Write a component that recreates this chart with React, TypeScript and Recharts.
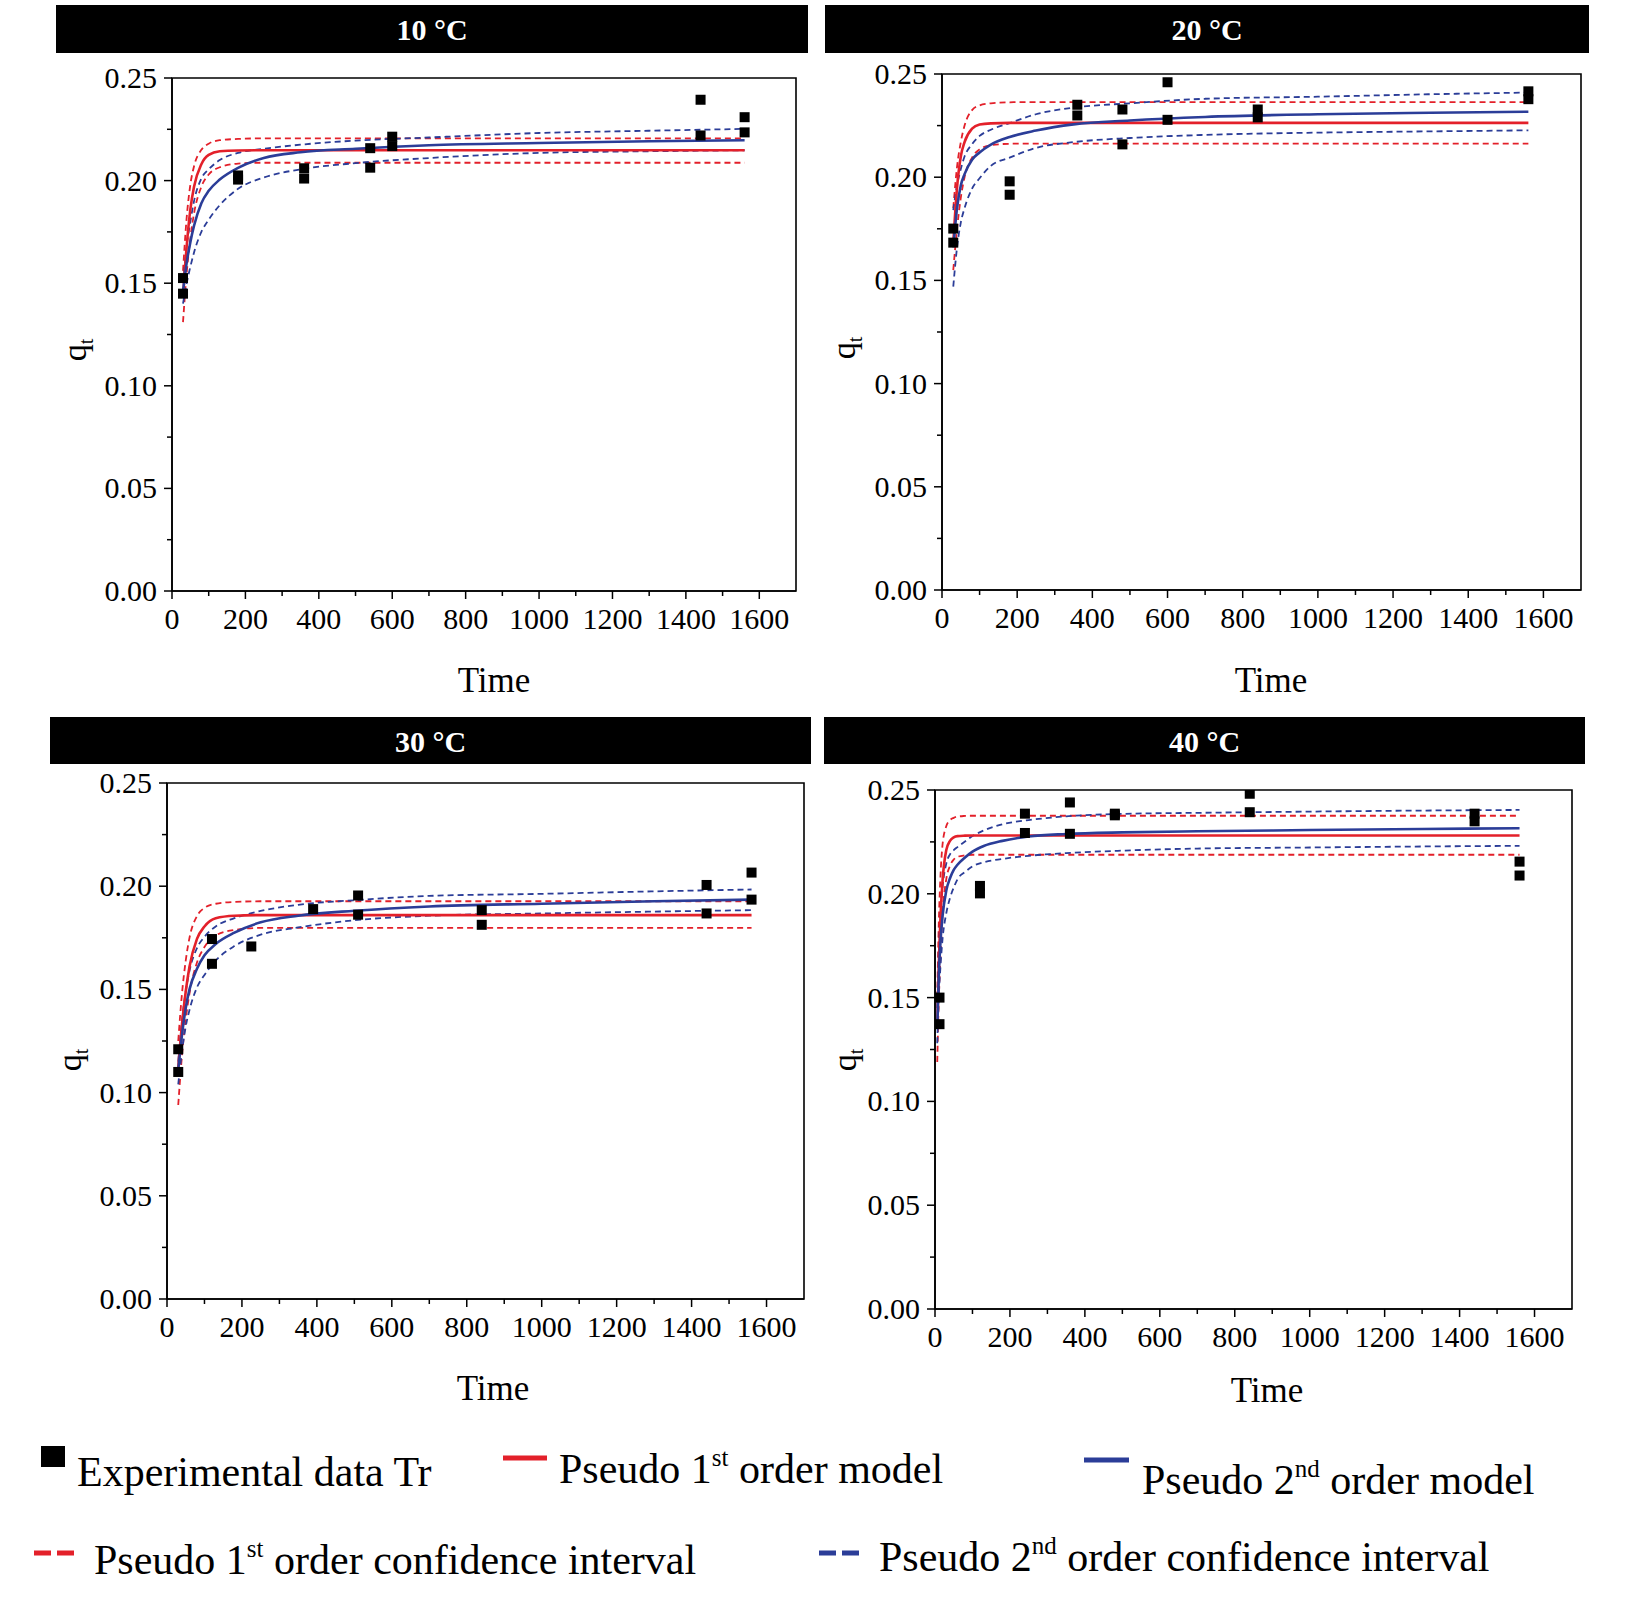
import React from "react";
import { ComposedChart, Line, Scatter, XAxis, YAxis, ReferenceArea } from "recharts";

const RED = "#e3202a";
const BLUE = "#2b3d98";
const FONT = '"Liberation Serif", "Times New Roman", serif';

const X_TICKS = [0, 100, 200, 300, 400, 500, 600, 700, 800, 900, 1000, 1100, 1200, 1300, 1400, 1500, 1600];
const Y_TICKS = [0, 0.025, 0.05, 0.075, 0.1, 0.125, 0.15, 0.175, 0.2, 0.225, 0.25];

// time grid of the fitted curves (10, 20, 30 °C) and of the 40 °C curves
const T_GRID = [30, 40, 50, 60, 80, 100, 130, 180, 250, 350, 500, 700, 1000, 1300, 1560];
const T_GRID_40 = [6, 10, 15, 20, 30, 40, 50, 60, 80, 100, 130, 180, 250, 350, 500, 700, 1000, 1300, 1560];

// 10 °C
const exp10T = [30, 30, 180, 180, 360, 360, 540, 540, 600, 600, 1440, 1440, 1560, 1560];
const exp10Q = [0.1525, 0.1449, 0.2025, 0.2005, 0.206, 0.201, 0.2158, 0.2063, 0.2214, 0.2168, 0.2394, 0.222, 0.2309, 0.2235];
const pfo10 = [0.143, 0.168, 0.186, 0.197, 0.208, 0.2125, 0.2143, 0.2147, 0.2148, 0.2148, 0.2148, 0.2148, 0.2148, 0.2148, 0.2148];
const pfo10Hi = [0.156, 0.182, 0.198, 0.207, 0.215, 0.218, 0.2197, 0.2203, 0.2206, 0.2206, 0.2206, 0.2206, 0.2206, 0.2206, 0.2206];
const pfo10Lo = [0.131, 0.155, 0.172, 0.184, 0.197, 0.203, 0.2065, 0.2083, 0.2087, 0.2087, 0.2087, 0.2087, 0.2087, 0.2087, 0.2087];
const pso10 = [0.146, 0.16, 0.17, 0.178, 0.189, 0.195, 0.2005, 0.2062, 0.211, 0.2138, 0.2155, 0.2172, 0.2183, 0.2192, 0.2197];
const pso10Hi = [0.15, 0.168, 0.18, 0.19, 0.201, 0.2055, 0.21, 0.2135, 0.2155, 0.2175, 0.2195, 0.221, 0.2232, 0.2243, 0.2252];
const pso10Lo = [0.14, 0.15, 0.158, 0.165, 0.175, 0.181, 0.188, 0.196, 0.2015, 0.2055, 0.2085, 0.211, 0.2135, 0.2143, 0.2148];

// 20 °C
const exp20T = [30, 30, 180, 180, 360, 360, 480, 480, 600, 600, 840, 840, 1560, 1560];
const exp20Q = [0.1751, 0.1683, 0.198, 0.1915, 0.2351, 0.2299, 0.2328, 0.2159, 0.246, 0.2278, 0.2328, 0.229, 0.2416, 0.2378];
const pfo20 = [0.168, 0.195, 0.21, 0.217, 0.2235, 0.2255, 0.2261, 0.2263, 0.2263, 0.2263, 0.2263, 0.2263, 0.2263, 0.2263, 0.2263];
const pfo20Hi = [0.185, 0.205, 0.217, 0.225, 0.2325, 0.2348, 0.2358, 0.2363, 0.2364, 0.2364, 0.2364, 0.2364, 0.2364, 0.2364, 0.2364];
const pfo20Lo = [0.155, 0.175, 0.19, 0.2, 0.2095, 0.2135, 0.2155, 0.2162, 0.2163, 0.2163, 0.2163, 0.2163, 0.2163, 0.2163, 0.2163];
const pso20 = [0.166, 0.185, 0.196, 0.2015, 0.2085, 0.212, 0.2158, 0.2195, 0.2226, 0.2256, 0.2275, 0.2292, 0.2305, 0.2312, 0.2317];
const pso20Hi = [0.184, 0.196, 0.204, 0.21, 0.216, 0.22, 0.223, 0.2262, 0.2305, 0.2337, 0.2358, 0.238, 0.239, 0.2402, 0.241];
const pso20Lo = [0.147, 0.166, 0.178, 0.185, 0.1945, 0.1995, 0.2055, 0.2095, 0.2142, 0.217, 0.219, 0.2205, 0.2216, 0.2222, 0.2227];

// 30 °C
const exp30T = [30, 30, 120, 120, 225, 390, 510, 510, 840, 840, 1440, 1440, 1560, 1560];
const exp30Q = [0.121, 0.11, 0.1744, 0.1624, 0.1708, 0.1889, 0.1955, 0.1862, 0.1884, 0.1813, 0.2006, 0.1868, 0.2066, 0.1935];
const pfo30 = [0.112, 0.133, 0.149, 0.161, 0.1745, 0.1805, 0.1845, 0.1857, 0.186, 0.186, 0.186, 0.186, 0.186, 0.186, 0.186];
const pfo30Hi = [0.125, 0.148, 0.164, 0.175, 0.1855, 0.1895, 0.1915, 0.1924, 0.1927, 0.1927, 0.1927, 0.1927, 0.1927, 0.1927, 0.1927];
const pfo30Lo = [0.094, 0.118, 0.1355, 0.148, 0.163, 0.1705, 0.1762, 0.1788, 0.1798, 0.1798, 0.1798, 0.1798, 0.1798, 0.1798, 0.1798];
const pso30 = [0.111, 0.128, 0.141, 0.15, 0.16, 0.1665, 0.172, 0.1775, 0.1825, 0.1857, 0.1881, 0.1902, 0.1915, 0.1927, 0.1935];
const pso30Hi = [0.115, 0.135, 0.149, 0.159, 0.17, 0.1755, 0.1805, 0.1845, 0.188, 0.191, 0.1932, 0.1953, 0.1963, 0.1975, 0.1984];
const pso30Lo = [0.104, 0.12, 0.132, 0.14, 0.151, 0.157, 0.164, 0.171, 0.1765, 0.18, 0.1835, 0.1857, 0.1868, 0.1877, 0.1884];

// 40 °C
const exp40T = [12, 12, 120, 120, 240, 240, 360, 360, 480, 480, 840, 840, 1440, 1440, 1560, 1560];
const exp40Q = [0.15, 0.1372, 0.2038, 0.2002, 0.2386, 0.2293, 0.244, 0.2289, 0.2386, 0.2378, 0.2482, 0.2393, 0.2386, 0.2349, 0.2155, 0.2088];
const pfo40 = [0.135, 0.165, 0.19, 0.206, 0.221, 0.2255, 0.2272, 0.2278, 0.228, 0.2281, 0.2281, 0.2281, 0.2281, 0.2281, 0.2281, 0.2281, 0.2281, 0.2281, 0.2281];
const pfo40Hi = [0.15, 0.185, 0.21, 0.2235, 0.2325, 0.2355, 0.2366, 0.2372, 0.2375, 0.2376, 0.2376, 0.2376, 0.2376, 0.2376, 0.2376, 0.2376, 0.2376, 0.2376, 0.2376];
const pfo40Lo = [0.119, 0.148, 0.172, 0.19, 0.207, 0.2135, 0.2165, 0.2178, 0.2185, 0.2188, 0.2188, 0.2188, 0.2188, 0.2188, 0.2188, 0.2188, 0.2188, 0.2188, 0.2188];
const pso40 = [0.135, 0.16, 0.178, 0.189, 0.2015, 0.2075, 0.2115, 0.214, 0.2175, 0.2203, 0.223, 0.2255, 0.2276, 0.2288, 0.2296, 0.2301, 0.2307, 0.2312, 0.2316];
const pso40Hi = [0.145, 0.172, 0.192, 0.203, 0.2145, 0.219, 0.221, 0.2225, 0.2252, 0.2278, 0.2305, 0.2335, 0.2355, 0.2373, 0.2385, 0.239, 0.2396, 0.2401, 0.2404];
const pso40Lo = [0.128, 0.15, 0.166, 0.178, 0.1905, 0.198, 0.203, 0.207, 0.2105, 0.2132, 0.2152, 0.2168, 0.2183, 0.2196, 0.2208, 0.2218, 0.2223, 0.2228, 0.2231];

// page layout of the four panels (px)
const panels = [
  {
    title: "10 °C", t: T_GRID, pfo: pfo10, pfoHi: pfo10Hi, pfoLo: pfo10Lo, pso: pso10, psoHi: pso10Hi, psoLo: pso10Lo,
    expT: exp10T, expQ: exp10Q,
    bar: [56, 5, 752, 48], plot: [172, 78, 624, 513], q: [86, 350], time: [494, 692],
  },
  {
    title: "20 °C", t: T_GRID, pfo: pfo20, pfoHi: pfo20Hi, pfoLo: pfo20Lo, pso: pso20, psoHi: pso20Hi, psoLo: pso20Lo,
    expT: exp20T, expQ: exp20Q,
    bar: [825, 5, 764, 48], plot: [942, 74, 639, 516], q: [855, 348], time: [1271, 692],
  },
  {
    title: "30 °C", t: T_GRID, pfo: pfo30, pfoHi: pfo30Hi, pfoLo: pfo30Lo, pso: pso30, psoHi: pso30Hi, psoLo: pso30Lo,
    expT: exp30T, expQ: exp30Q,
    bar: [50, 717, 761, 47], plot: [167, 783, 637, 516], q: [81, 1060], time: [493, 1400],
  },
  {
    title: "40 °C", t: T_GRID_40, pfo: pfo40, pfoHi: pfo40Hi, pfoLo: pfo40Lo, pso: pso40, psoHi: pso40Hi, psoLo: pso40Lo,
    expT: exp40T, expQ: exp40Q,
    bar: [824, 717, 761, 47], plot: [935, 790, 637, 519], q: [856, 1060], time: [1267, 1402],
  },
];

// ticks are drawn by hand so major and minor marks can differ in length
function XTick(props: any) {
  const { x, y, payload } = props;
  const v = payload.value;
  const major = v % 200 === 0;
  return (
    <g>
      <line x1={x} y1={y} x2={x} y2={y + (major ? 8 : 5)} stroke="#000" strokeWidth={1.5} />
      {major && (
        <text x={x} y={y + 38} textAnchor="middle" fontSize={30} fontFamily={FONT} fill="#000">
          {v}
        </text>
      )}
    </g>
  );
}

function YTick(props: any) {
  const { x, y, payload } = props;
  const v = payload.value;
  const major = Math.round(v * 1000) % 50 === 0;
  return (
    <g>
      <line x1={x} y1={y} x2={x - (major ? 8 : 5)} y2={y} stroke="#000" strokeWidth={1.5} />
      {major && (
        <text x={x - 15} y={y + 10} textAnchor="end" fontSize={30} fontFamily={FONT} fill="#000">
          {v.toFixed(2)}
        </text>
      )}
    </g>
  );
}

const Square = (p: any) => <rect x={p.cx - 5} y={p.cy - 5} width={10} height={10} fill="#000" />;

function Panel({ p }: { p: (typeof panels)[number] }) {
  const rows = p.t.map((t, i) => ({
    t,
    rs: p.pfo[i],
    ru: p.pfoHi[i],
    rl: p.pfoLo[i],
    bs: p.pso[i],
    bu: p.psoHi[i],
    bl: p.psoLo[i],
  }));
  const pts = p.expT.map((t, i) => ({ t, q: p.expQ[i] }));
  const [L, T, W, H] = p.plot;
  const ML = 100, MT = 30, MR = 12, MB = 50;
  const axis = { stroke: "#000", strokeWidth: 1.6 };
  return (
    <div style={{ position: "absolute", left: L - ML, top: T - MT }}>
      <ComposedChart
        width={W + ML + MR}
        height={H + MT + MB}
        data={rows}
        margin={{ top: MT, right: MR, left: ML - 1, bottom: MB - 1 }}
      >
        <XAxis
          dataKey="t"
          type="number"
          domain={[0, 1700]}
          ticks={X_TICKS}
          interval={0}
          allowDataOverflow
          height={1}
          tickSize={0}
          tickMargin={0}
          tickLine={false}
          axisLine={axis}
          tick={<XTick />}
        />
        <YAxis
          type="number"
          domain={[0, 0.25]}
          ticks={Y_TICKS}
          interval={0}
          allowDataOverflow
          width={1}
          tickSize={0}
          tickMargin={0}
          tickLine={false}
          axisLine={axis}
          tick={<YTick />}
        />
        <ReferenceArea x1={0} x2={1700} y1={0} y2={0.25} fill="none" stroke="#000" strokeWidth={1.6} />
        <Scatter data={pts} dataKey="q" shape={Square} isAnimationActive={false} />
        <Line dataKey="ru" type="monotone" stroke={RED} strokeWidth={1.8} strokeDasharray="6 4" dot={false} activeDot={false} isAnimationActive={false} />
        <Line dataKey="rl" type="monotone" stroke={RED} strokeWidth={1.8} strokeDasharray="6 4" dot={false} activeDot={false} isAnimationActive={false} />
        <Line dataKey="bu" type="monotone" stroke={BLUE} strokeWidth={1.8} strokeDasharray="6 4" dot={false} activeDot={false} isAnimationActive={false} />
        <Line dataKey="bl" type="monotone" stroke={BLUE} strokeWidth={1.8} strokeDasharray="6 4" dot={false} activeDot={false} isAnimationActive={false} />
        <Line dataKey="rs" type="monotone" stroke={RED} strokeWidth={2.6} dot={false} activeDot={false} isAnimationActive={false} />
        <Line dataKey="bs" type="monotone" stroke={BLUE} strokeWidth={2.6} dot={false} activeDot={false} isAnimationActive={false} />
      </ComposedChart>
    </div>
  );
}

export default function App() {
  return (
    <div style={{ position: "absolute", left: 0, top: 0, width: 1625, height: 1603, background: "#fff" }}>
      <svg width={1625} height={1603} style={{ position: "absolute", left: 0, top: 0 }} fontFamily={FONT}>
        {panels.map((p) => {
          const [bx, by, bw, bh] = p.bar;
          return (
            <g key={p.title}>
              <rect x={bx} y={by} width={bw} height={bh} fill="#000" />
              <text x={bx + bw / 2} y={by + bh / 2 + 11} textAnchor="middle" fontSize={30} fontWeight="bold" fill="#fff">
                {p.title}
              </text>
              <text x={p.time[0]} y={p.time[1]} textAnchor="middle" fontSize={35} fill="#000">
                Time
              </text>
              <text transform={`translate(${p.q[0]},${p.q[1]}) rotate(-90)`} textAnchor="middle" fontSize={34} fill="#000">
                q<tspan fontSize={20} dy={7}>t</tspan>
              </text>
            </g>
          );
        })}

        {/* legend */}
        <rect x={41} y={1446} width={24} height={21} fill="#000" />
        <text x={77} y={1486} fontSize={42} fill="#000">Experimental data Tr</text>

        <line x1={503} x2={547} y1={1458} y2={1458} stroke={RED} strokeWidth={5} />
        <text x={559} y={1483} fontSize={42} fill="#000">
          Pseudo 1<tspan fontSize={25} dy={-17}>st</tspan>
          <tspan dy={17}>{" order model"}</tspan>
        </text>

        <line x1={1084} x2={1129} y1={1460} y2={1460} stroke={BLUE} strokeWidth={5} />
        <text x={1142} y={1494} fontSize={42} fill="#000">
          Pseudo 2<tspan fontSize={25} dy={-17}>nd</tspan>
          <tspan dy={17}>{" order model"}</tspan>
        </text>

        <line x1={34} x2={74} y1={1553} y2={1553} stroke={RED} strokeWidth={5} strokeDasharray="17 6" />
        <text x={94} y={1574} fontSize={42} fill="#000">
          Pseudo 1<tspan fontSize={25} dy={-17}>st</tspan>
          <tspan dy={17}>{" order confidence interval"}</tspan>
        </text>

        <line x1={819} x2={859} y1={1553} y2={1553} stroke={BLUE} strokeWidth={5} strokeDasharray="17 6" />
        <text x={879} y={1571} fontSize={42} fill="#000">
          Pseudo 2<tspan fontSize={25} dy={-17}>nd</tspan>
          <tspan dy={17}>{" order confidence interval"}</tspan>
        </text>
      </svg>
      {panels.map((p) => (
        <Panel key={p.title} p={p} />
      ))}
    </div>
  );
}
